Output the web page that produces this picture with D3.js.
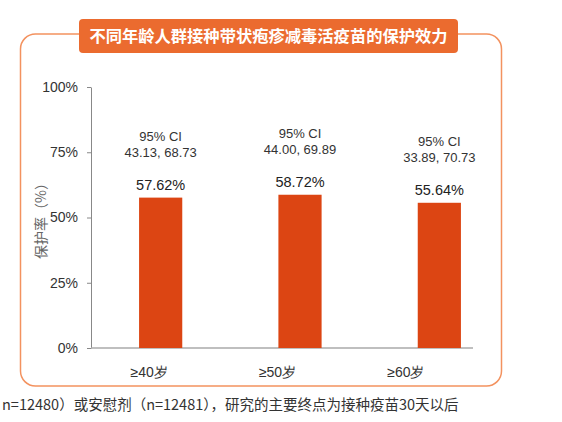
<!DOCTYPE html>
<html>
<head>
<meta charset="utf-8">
<script src="https://cdn.jsdelivr.net/npm/d3@7"></script>
<style>
  html, body { margin: 0; padding: 0; background: #fff; }
  svg { display: block; font-family: "Liberation Sans", Arial, "Noto Sans CJK SC", sans-serif; }
</style>
</head>
<body>
<div id="chart"></div>
<script>
// 不同年龄人群的保护效力
const categories = ["≥40岁", "≥50岁", "≥60岁"];
const efficacy = [57.62, 58.72, 55.64];
const ciLow = ["43.13", "44.00", "33.89"];
const ciHigh = ["68.73", "69.89", "70.73"];
const yTicks = [0, 25, 50, 75, 100];

const title = "不同年龄人群接种带状疱疹减毒活疫苗的保护效力";
const yLabel = "保护率（%）";
const footnote = "n=12480）或安慰剂（n=12481），研究的主要终点为接种疫苗30天以后";

const W = 562, H = 422;
const plot = { left: 91, right: 473, top: 87, bottom: 348 };

const svg = d3.select("#chart")
    .append("svg")
    .attr("width", W)
    .attr("height", H);

// frame around the chart
svg.append("rect")
    .attr("x", 20.5)
    .attr("y", 34)
    .attr("width", 481)
    .attr("height", 352)
    .attr("rx", 15)
    .attr("fill", "none")
    .attr("stroke", "#f3925f")
    .attr("stroke-width", 1.5);

// title badge
svg.append("rect")
    .attr("x", 79)
    .attr("y", 19)
    .attr("width", 379)
    .attr("height", 34)
    .attr("rx", 4)
    .attr("fill", "#eb6b2f");

svg.append("text")
    .attr("x", 268.5)
    .attr("y", 36)
    .attr("dy", "0.36em")
    .attr("text-anchor", "middle")
    .attr("fill", "#fff")
    .attr("font-size", 16.3)
    .attr("font-weight", "bold")
    .attr("font-family", "'Noto Sans CJK SC', sans-serif")
    .text(title);

const y = d3.scaleLinear()
    .domain([0, 100])
    .range([plot.bottom, plot.top]);

// bars sit on their own band scale, category labels on another
const xBar = d3.scaleBand()
    .domain(categories)
    .range([plot.left, 509])
    .paddingInner(0.69)
    .paddingOuter(0.345);

const xLabel = d3.scaleBand()
    .domain(categories)
    .range([85, 470]);

// y axis
const yAxis = svg.append("g")
    .attr("transform", `translate(${plot.left},0)`)
    .call(d3.axisLeft(y)
        .tickValues(yTicks)
        .tickFormat(d => d + "%")
        .tickSize(4)
        .tickSizeOuter(0)
        .tickPadding(9));

yAxis.select(".domain").attr("stroke", "#888");
yAxis.selectAll(".tick line").attr("stroke", "#888");
yAxis.selectAll(".tick text")
    .attr("fill", "#333")
    .attr("font-size", 14);

// x axis line + labels
svg.append("line")
    .attr("x1", plot.left)
    .attr("x2", plot.right)
    .attr("y1", y(0))
    .attr("y2", y(0))
    .attr("stroke", "#aaa")
    .attr("stroke-width", 1.5);

const xAxis = svg.append("g")
    .attr("transform", `translate(0,${y(0)})`)
    .call(d3.axisBottom(xLabel).tickSize(0).tickPadding(19));

xAxis.select(".domain").remove();
xAxis.selectAll(".tick text")
    .attr("fill", "#333")
    .attr("font-size", 14);

// bars
svg.selectAll(".bar")
    .data(categories)
    .enter()
    .append("rect")
    .attr("class", "bar")
    .attr("x", d => xBar(d))
    .attr("y", (d, i) => y(efficacy[i]))
    .attr("width", xBar.bandwidth())
    .attr("height", (d, i) => y(0) - y(efficacy[i]))
    .attr("fill", "#dc4513");

// value labels
svg.selectAll(".bar-value")
    .data(categories)
    .enter()
    .append("text")
    .attr("class", "bar-value")
    .attr("x", d => xBar(d) + xBar.bandwidth() / 2)
    .attr("y", (d, i) => y(efficacy[i]) - 8)
    .attr("text-anchor", "middle")
    .attr("fill", "#222")
    .attr("font-size", 14.5)
    .text((d, i) => efficacy[i].toFixed(2) + "%");

// confidence interval notes
const ci = svg.selectAll(".ci")
    .data(categories)
    .enter()
    .append("text")
    .attr("class", "ci")
    .attr("text-anchor", "middle")
    .attr("fill", "#333")
    .attr("font-size", 13);

ci.append("tspan")
    .attr("x", d => xBar(d) + xBar.bandwidth() / 2)
    .attr("y", (d, i) => y(efficacy[i]) - 57)
    .text("95% CI");

ci.append("tspan")
    .attr("x", d => xBar(d) + xBar.bandwidth() / 2)
    .attr("y", (d, i) => y(efficacy[i]) - 41)
    .text((d, i) => ciLow[i] + ", " + ciHigh[i]);

// y axis title
svg.append("text")
    .attr("transform", `translate(41,${(plot.top + plot.bottom) / 2}) rotate(-90)`)
    .attr("dy", "0.36em")
    .attr("text-anchor", "middle")
    .attr("fill", "#666")
    .attr("font-size", 14)
    .attr("font-family", "'Noto Sans CJK SC', sans-serif")
    .text(yLabel);

// footnote below the frame
svg.append("text")
    .attr("x", 2)
    .attr("y", 405)
    .attr("dy", "0.36em")
    .attr("fill", "#333")
    .attr("font-size", 14.5)
    .attr("font-family", "'Noto Sans CJK SC', sans-serif")
    .text(footnote);
</script>
</body>
</html>
